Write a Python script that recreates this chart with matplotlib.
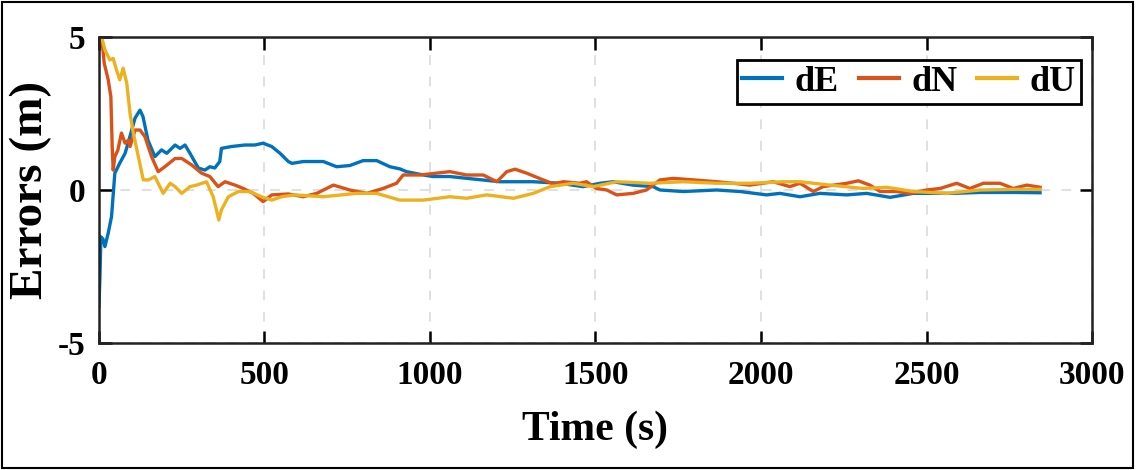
"""
Position error (E/N/U) convergence over time.
"""

import matplotlib
matplotlib.use("Agg")
import matplotlib.pyplot as plt
from matplotlib.patches import Rectangle

# ── Data ────────────────────────────────────────────────────────────────────
t_dE = [0, 3, 6, 12, 18, 28, 38, 48, 63, 79,
        88, 109, 124, 133, 148, 169, 189, 205, 230, 245,
        260, 275, 300, 320, 335, 350, 365, 370, 400, 441,
        471, 496, 522, 547, 572, 583, 617, 678, 718, 758,
        798, 839, 879, 909, 929, 980, 1009, 1060, 1112, 1211,
        1311, 1393, 1462, 1514, 1553, 1613, 1674, 1695, 1765, 1866,
        1937, 2017, 2057, 2118, 2178, 2259, 2319, 2390, 2460, 2511,
        2580, 2662, 2762, 2843]
dE = [-3.8, -2.83, -1.53, -1.6, -1.85, -1.41, -0.87, 0.55, 0.88, 1.2,
      1.53, 2.35, 2.61, 2.4, 1.63, 1.09, 1.31, 1.2, 1.47, 1.36,
      1.47, 1.2, 0.72, 0.65, 0.76, 0.72, 0.93, 1.36, 1.42, 1.47,
      1.47, 1.53, 1.42, 1.2, 0.93, 0.87, 0.93, 0.93, 0.76, 0.8,
      0.96, 0.96, 0.76, 0.69, 0.6, 0.49, 0.44, 0.44, 0.38, 0.27,
      0.27, 0.22, 0.11, 0.22, 0.27, 0.16, 0.11, 0.0, -0.05, 0.0,
      -0.05, -0.16, -0.11, -0.22, -0.11, -0.16, -0.11, -0.24, -0.11, -0.11,
      -0.11, -0.08, -0.08, -0.09]

t_dN = [0, 9, 16, 28, 36, 40, 43, 48, 57, 68,
        79, 89, 94, 109, 124, 139, 159, 179, 199, 230,
        250, 280, 310, 335, 360, 381, 411, 436, 466, 496,
        522, 572, 617, 658, 708, 758, 809, 858, 899, 919,
        970, 1060, 1111, 1161, 1202, 1232, 1257, 1292, 1342, 1373,
        1403, 1453, 1473, 1503, 1534, 1564, 1614, 1654, 1695, 1735,
        1796, 1866, 1916, 1966, 2037, 2087, 2118, 2158, 2188, 2259,
        2294, 2329, 2360, 2410, 2450, 2500, 2541, 2591, 2631, 2672,
        2722, 2762, 2803, 2843]
dN = [4.8, 4.9, 4.14, 3.6, 3.05, 1.42, 0.65, 1.09, 1.3, 1.86,
      1.53, 1.63, 1.42, 1.96, 1.96, 1.74, 1.09, 0.6, 0.76, 1.03,
      1.03, 0.82, 0.55, 0.44, 0.11, 0.27, 0.16, 0.05, -0.11, -0.38,
      -0.16, -0.13, -0.22, -0.11, 0.16, 0.0, -0.11, 0.05, 0.22, 0.49,
      0.49, 0.6, 0.49, 0.49, 0.27, 0.6, 0.68, 0.55, 0.33, 0.2,
      0.27, 0.22, 0.27, 0.05, 0.0, -0.16, -0.11, 0.0, 0.33, 0.38,
      0.33, 0.27, 0.22, 0.16, 0.27, 0.11, 0.22, -0.05, 0.11, 0.22,
      0.3, 0.16, -0.05, -0.05, -0.11, 0.0, 0.05, 0.22, 0.05, 0.22,
      0.22, 0.05, 0.16, 0.09]

t_dU = [0, 8, 18, 33, 43, 53, 63, 73, 84, 94,
        104, 119, 134, 149, 169, 194, 215, 230, 250, 275,
        295, 325, 345, 355, 362, 370, 391, 421, 456, 491,
        522, 552, 592, 678, 778, 839, 909, 980, 1060, 1111,
        1171, 1252, 1312, 1363, 1433, 1493, 1564, 1664, 1765, 1866,
        1966, 2067, 2118, 2208, 2309, 2380, 2460, 2561, 2662, 2762,
        2843]
dU = [5.0, 5.0, 4.58, 4.25, 4.3, 3.92, 3.6, 3.98, 3.49, 2.5,
      1.85, 1.09, 0.33, 0.33, 0.44, -0.11, 0.22, 0.11, -0.11, 0.11,
      0.16, 0.27, -0.22, -0.65, -0.98, -0.65, -0.22, -0.05, -0.05, -0.22,
      -0.33, -0.22, -0.16, -0.22, -0.11, -0.11, -0.33, -0.33, -0.22, -0.27,
      -0.16, -0.27, -0.11, 0.11, 0.22, 0.11, 0.27, 0.22, 0.27, 0.22,
      0.22, 0.27, 0.27, 0.16, 0.05, 0.09, -0.05, -0.11, 0.0, 0.02,
      0.02]

x_ticks = [0, 500, 1000, 1500, 2000, 2500, 3000]
y_ticks = [-5, 0, 5]

# ── Style ────────────────────────────────────────────────────────────────────
plt.rcParams["font.family"] = ["Liberation Serif", "DejaVu Serif"]
plt.rcParams["font.weight"] = "bold"
plt.rcParams["axes.unicode_minus"] = False

C_E, C_N, C_U = "#0072BD", "#D95319", "#EDB120"

fig = plt.figure(figsize=(11.36, 4.70), dpi=100)
ax = fig.add_axes([0.0871, 0.2702, 0.8742, 0.6511])

ax.plot(t_dE, dE, color=C_E, lw=2.4, label="dE")
ax.plot(t_dN, dN, color=C_N, lw=2.4, label="dN")
ax.plot(t_dU, dU, color=C_U, lw=2.4, label="dU")

ax.set_xlim(0, 3000)
ax.set_ylim(-5, 5)
ax.set_xticks(x_ticks)
ax.set_yticks(y_ticks)
ax.grid(True, ls=(0, (5, 6)), color="#e0e0e0", lw=1.4)
ax.set_axisbelow(True)

ax.tick_params(direction="in", length=9, width=1.8, top=True, right=True,
               labelsize=24)
ax.tick_params(axis="x", pad=12)
ax.tick_params(axis="y", pad=10)
for sp in ax.spines.values():
    sp.set_linewidth(1.8)
    sp.set_color("#222222")

ax.set_xlabel("Time (s)", fontsize=30, fontweight="bold", labelpad=14)
ax.set_ylabel("Errors (m)", fontsize=34, fontweight="bold", labelpad=4)

leg = ax.legend(ncol=3, loc="upper right", bbox_to_anchor=(0.989, 0.925),
                borderaxespad=0, fontsize=26, handlelength=1.1,
                handletextpad=0.35, columnspacing=0.55, borderpad=0.15,
                fancybox=False, framealpha=1, edgecolor="black")
leg.get_frame().set_linewidth(2.0)
for h in leg.get_lines():
    h.set_linewidth(3)

# outer border around the whole figure
fig.patches.append(Rectangle((0.002, 0.005), 0.995, 0.99, transform=fig.transFigure,
                             fill=False, ec="black", lw=1.5))

fig.savefig("out.png", dpi=100)
